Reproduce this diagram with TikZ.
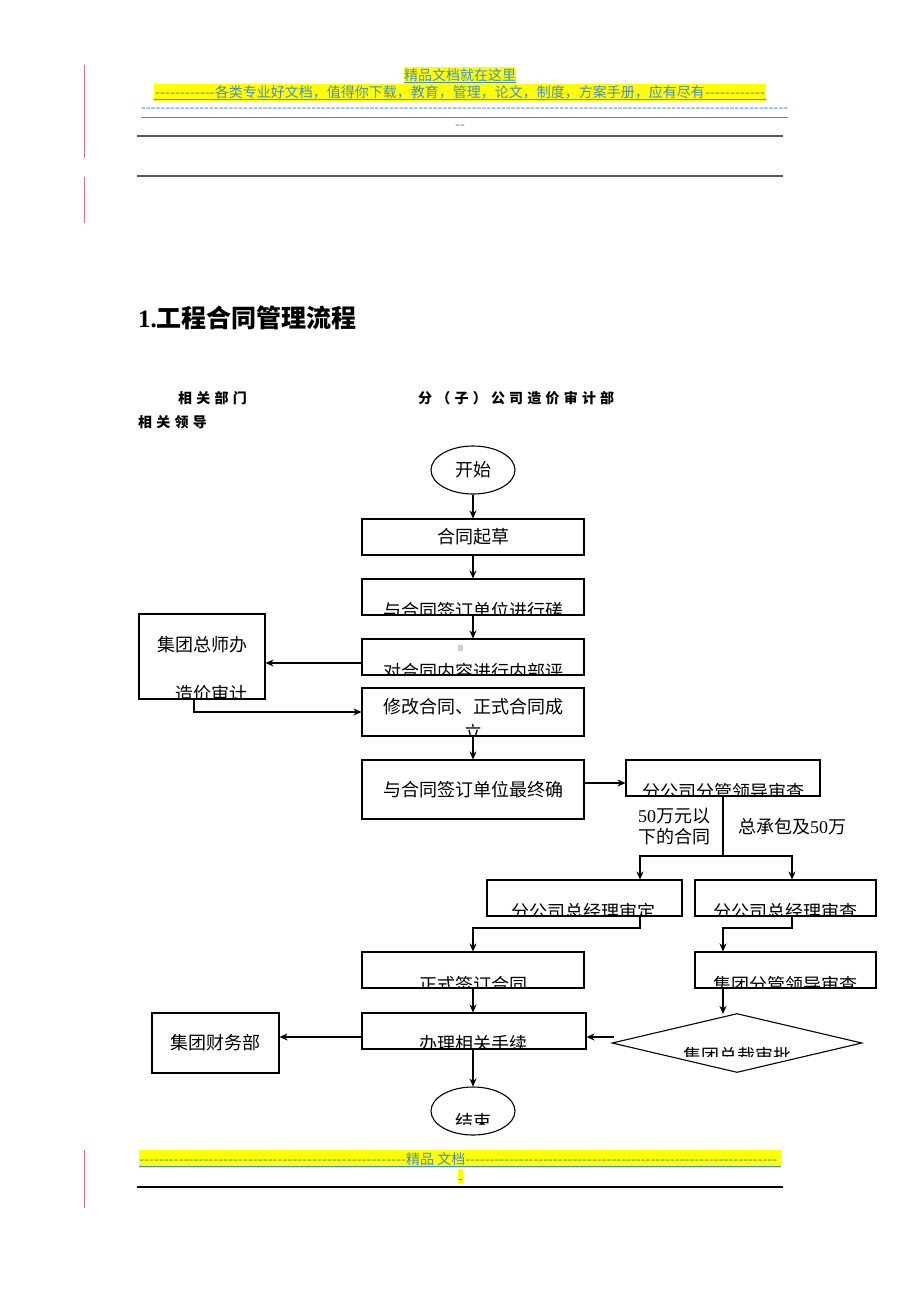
\documentclass[tikz,border=0pt]{standalone}
\usepackage{fontspec}
\usepackage{graphicx}
\usetikzlibrary{arrows.meta,shapes.geometric,calc}
\setmainfont{Noto Sans CJK SC}
\newfontfamily\lat{Liberation Serif}
\newfontfamily\hdr[LetterSpace=30]{Noto Sans CJK SC}
\definecolor{hl}{RGB}{255,255,0}
\definecolor{lk}{RGB}{70,140,200}
\definecolor{pk}{RGB}{220,110,140}
\definecolor{gl}{RGB}{90,90,90}
\newcommand\dl[1]{\hbox to #1{\xleaders\hbox{-}\hfill}}
\begin{document}
\begin{tikzpicture}[x=1pt,y=-1pt,
  box/.style={draw, line width=1.1pt, inner sep=0pt},
  arr/.style={line width=1.1pt, -{Stealth[length=8pt,width=7pt,inset=2.5pt]}},
  ln/.style={line width=1.1pt},
  txt/.style={inner sep=0pt, font=\fontsize{18}{20}\selectfont},
  hd/.style={inner sep=0pt, text=lk, font=\fontsize{14}{16}\selectfont},
  lab/.style={inner sep=0pt, anchor=west, font=\fontsize{14}{16}\selectfont\hdr\bfseries}]
\useasboundingbox[fill=white] (0,0) rectangle (920,1302);
% margin marks
\draw[pk, line width=1pt] (84,65) -- (84,158);
\draw[pk, line width=1pt] (84,177) -- (84,223);
\draw[pk, line width=1pt] (84,1150) -- (84,1208);
% header
\fill[hl] (404,67) rectangle (516,84);
\node[hd] (h1) at (460,75) {精品文档就在这里};
\draw[lk, line width=0.8pt] (404,82.5) -- (516,82.5);
\fill[hl] (154,84) rectangle (766,101);
\node[hd] (h2) at (460,92) {\dl{60pt}各类专业好文档，值得你下载，教育，管理，论文，制度，方案手册，应有尽有\dl{60pt}};
\draw[lk, line width=0.8pt] (154,99.5) -- (766,99.5);
\node[hd] (h3) at (464.5,110) {\dl{647pt}};
\draw[lk, line width=1pt] (141,117) -- (788,117);
\node[hd] (h4) at (460,127) {\dl{10pt}};
\draw[gl, line width=1.5pt] (137,136) -- (783,136);
\draw[gl, line width=1.5pt] (137,176) -- (783,176);
% title
\node[anchor=west, inner sep=0pt, font=\fontsize{25}{28}\selectfont\bfseries] (title) at (138,318) {{\lat 1.}工程合同管理流程};
\node[lab] (c1) at (178,398) {相关部门};
\node[lab] (c2) at (418,398) {分（子）公司造价审计部};
\node[lab] (c3) at (138,422) {相关领导};
% flow nodes
\node[draw, ellipse, line width=1.1pt, minimum width=84pt, minimum height=48pt, inner sep=0pt, font=\fontsize{18}{20}\selectfont] (st) at (473,470) {开始};
\node[box, minimum width=222pt, minimum height=36pt, font=\fontsize{18}{20}\selectfont] (b1) at (473,537) {合同起草};
\node[box, minimum width=222pt, minimum height=36pt] (b2) at (473,597) {};
\node[box, minimum width=222pt, minimum height=36pt] (b3) at (473,657) {};
\node[box, minimum width=126pt, minimum height=85pt] (gz) at (202,656.5) {};
\node[box, minimum width=222pt, minimum height=48pt] (b4) at (473,712) {};
\node[box, minimum width=222pt, minimum height=59pt, font=\fontsize{18}{20}\selectfont] (b5) at (473,789.5) {与合同签订单位最终确};
\node[box, minimum width=194pt, minimum height=36pt] (b6) at (723,778) {};
\node[box, minimum width=195pt, minimum height=36pt] (b7) at (584.5,898) {};
\node[box, minimum width=181pt, minimum height=36pt] (b8) at (785.5,898) {};
\node[box, minimum width=222pt, minimum height=36pt] (b9) at (473,970) {};
\node[box, minimum width=181pt, minimum height=36pt] (b10) at (785.5,970) {};
\node[box, minimum width=224pt, minimum height=36pt] (b11) at (474,1031) {};
\node[box, minimum width=127pt, minimum height=60pt, font=\fontsize{18}{20}\selectfont] (fin) at (215.5,1043) {集团财务部};
\node[draw, diamond, line width=1.1pt, minimum width=250pt, minimum height=59pt, inner sep=0pt] (dia) at (737,1043) {};
\node[draw, ellipse, line width=1.1pt, minimum width=84pt, minimum height=48pt, inner sep=0pt] (en) at (473,1111) {};
\fill[black!20] (458,645) rectangle (463,651);
% texts inside (partly hidden)
\node[txt] (t3a) at (202,645) {集团总师办};
\node[txt] (t4a) at (473,707) {修改合同、正式合同成};
\begin{scope}\clip (363,580) rectangle (583,614);
\node[txt] (t2) at (473,611) {与合同签订单位进行磋};\end{scope}
\begin{scope}\clip (363,640) rectangle (583,674);
\node[txt] (t3) at (473,672) {对合同内容进行内部评};\end{scope}
\begin{scope}\clip (140,615) rectangle (264,698);
\node[txt] (t3b) at (211,694) {造价审计};\end{scope}
\begin{scope}\clip (363,689) rectangle (583,735);
\node[txt] (t4b) at (473,732) {立};\end{scope}
\begin{scope}\clip (627,761) rectangle (819,795);
\node[txt] (t6) at (723,792) {分公司分管领导审查};\end{scope}
\begin{scope}\clip (488,881) rectangle (682,915);
\node[txt] (t7) at (583,912) {分公司总经理审定};\end{scope}
\begin{scope}\clip (696,881) rectangle (875,915);
\node[txt] (t8) at (785,912) {分公司总经理审查};\end{scope}
\begin{scope}\clip (363,953) rectangle (583,987);
\node[txt] (t9) at (473,985) {正式签订合同};\end{scope}
\begin{scope}\clip (696,953) rectangle (875,987);
\node[txt] (t10) at (785,985) {集团分管领导审查};\end{scope}
\begin{scope}\clip (363,1014) rectangle (585,1048);
\node[txt] (t11) at (473,1044) {办理相关手续};\end{scope}
\begin{scope}\clip (640,1014) rectangle (840,1056);
\node[txt] (tdia) at (737,1056) {集团总裁审批};\end{scope}
\begin{scope}\clip (430,1087) rectangle (516,1124);
\node[txt] (ten) at (473,1122) {结束};\end{scope}
% branch labels
\node[txt] (l1) at (674,816) {{\lat 50}万元以};
\node[txt] (l2) at (674,837) {下的合同};
\node[txt] (l3) at (792,827) {总承包及{\lat 50}万};
% connectors
\coordinate (y663) at (0,663);
\coordinate (ga) at (194,712);
\coordinate (y783) at (0,783);
\coordinate (br) at (723,856);
\coordinate (k7) at (640,856);
\coordinate (k8) at (792,856);
\coordinate (m7) at (640,928);
\coordinate (m8) at (792,928);
\coordinate (n8) at (723,928);
\coordinate (dw) at (614,1037);
\draw[arr] (st.south) -- (b1.north);
\draw[arr] (b1.south) -- (b2.north);
\draw[arr] (b2.south) -- (b3.north);
\draw[arr] (b3.west |- y663) -- (gz.east |- y663);
\draw[arr] (gz.south -| ga) |- (ga -| b4.west);
\draw[arr] (b4.south) -- (b5.north);
\draw[arr] (b5.east |- y783) -- (b6.west |- y783);
\draw[ln] (b6.south) -- (br);
\draw[arr] (br) -- (k7) -- (k7 |- b7.north);
\draw[arr] (br) -- (k8) -- (k8 |- b8.north);
\draw[arr] (b7.south -| m7) -- (m7) -| (b9.north);
\draw[arr] (b8.south -| m8) -- (m8) -- (n8) -- (n8 |- b10.north);
\draw[arr] (b9.south) -- (b9.south |- b11.north);
\draw[arr] (b10.south -| n8) -- ($(n8 |- dia.north)+(0,1)$);
\draw[arr] (dw) -- (dw -| b11.east);
\draw[arr] (b11.west |- dw) -- (fin.east |- dw);
\draw[arr] (b11.south -| en.north) -- (en.north);
% footer
\fill[hl] (139,1150) rectangle (781,1168);
\node[hd, anchor=west] (f1) at (139,1159) {\dl{267pt}精品\ 文档\dl{312pt}};
\draw[lk, line width=0.8pt] (139,1166) -- (781,1166);
\fill[hl] (458,1169) rectangle (463,1183);
\draw[lk, line width=1pt] (459,1179) -- (462,1179);
\draw[black, line width=1.5pt] (137,1187) -- (783,1187);
\end{tikzpicture}
\end{document}
